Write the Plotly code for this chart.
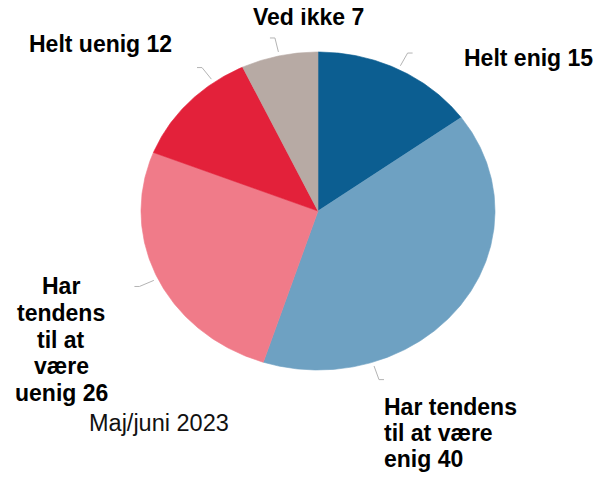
import textwrap
import numpy as np
import plotly.graph_objects as go

# ---- data ----
categories = ["Helt enig", "Har tendens til at være enig",
              "Har tendens til at være uenig", "Helt uenig", "Ved ikke"]
values = [15, 40, 26, 12, 7]
colors = ["#0c5e91", "#6ea1c2", "#f07b89", "#e3213a", "#b7aaa4"]
subtitle = "Maj/juni 2023"

# ---- layout constants (pixels) ----
W, H = 608, 479
OFF = 8  # page body margin compensation
CX, CY, RX, RY = 318, 211, 177, 159
wrap_width = [20, 11, 8, 20, 20]
# label anchor: (x, y of first line's cap middle, xanchor)
label_pos = [(528, 58.3, "center"), (382, 406.7, "left"), (61, 286.0, "center"),
             (100, 44.2, "center"), (308, 17.2, "center")]
line_gap = [0, 26.3, 26.8, 0, 0]
leader_angle = [27, 162, 244.8, 324, 347.4]
FONT = "Arial, Liberation Sans, sans-serif"
FS = 23

fig = go.Figure()

total = sum(values)
start = 0.0
for cat, v, col in zip(categories, values, colors):
    a0 = start / total * 2 * np.pi
    a1 = (start + v) / total * 2 * np.pi
    n = max(int(v * 6), 8)
    t = np.linspace(a0, a1, n)
    xs = np.concatenate([[CX], CX + RX * np.sin(t), [CX]])
    ys = np.concatenate([[CY], CY - RY * np.cos(t), [CY]])
    fig.add_trace(go.Scatter(x=xs, y=ys, mode="lines", fill="toself",
                             fillcolor=col, line=dict(color=col, width=0.6),
                             name=cat, hoverinfo="name", showlegend=False))
    start += v

# leader lines
lx, ly = [], []
for a in leader_angle:
    r = np.deg2rad(a)
    x0 = CX + 1.025 * RX * np.sin(r)
    y0 = CY - 1.025 * RY * np.cos(r)
    x1 = CX + 1.115 * RX * np.sin(r)
    y1 = CY - 1.115 * RY * np.cos(r)
    x2 = x1 + 5 * np.sign(np.sin(r))
    lx += [x0, x1, x2, None]
    ly += [y0, y1, y1, None]
fig.add_trace(go.Scatter(x=lx, y=ly, mode="lines",
                         line=dict(color="#b4b4b4", width=1),
                         hoverinfo="skip", showlegend=False))

annotations = []
for cat, v, ww, (x, y, xa), gap in zip(categories, values, wrap_width, label_pos, line_gap):
    lines = textwrap.wrap(f"{cat} {v}", ww)
    for i, ln in enumerate(lines):
        annotations.append(dict(x=x, y=y + i * gap, xref="x", yref="y",
                                text=f"<b>{ln}</b>", showarrow=False,
                                xanchor=xa, yanchor="middle",
                                font=dict(family=FONT, size=FS, color="#000000")))
annotations.append(dict(x=159.2, y=423.3, xref="x", yref="y", text=subtitle,
                        showarrow=False, xanchor="center", yanchor="middle",
                        font=dict(family=FONT, size=23.5, color="#111111")))

fig.update_layout(
    width=W, height=H, margin=dict(l=0, r=0, t=0, b=0),
    paper_bgcolor="white", plot_bgcolor="white",
    xaxis=dict(range=[OFF, W + OFF], visible=False, fixedrange=True),
    yaxis=dict(range=[H + OFF, OFF], visible=False, fixedrange=True),
    annotations=annotations, showlegend=False,
)

fig.write_html("out.html")
